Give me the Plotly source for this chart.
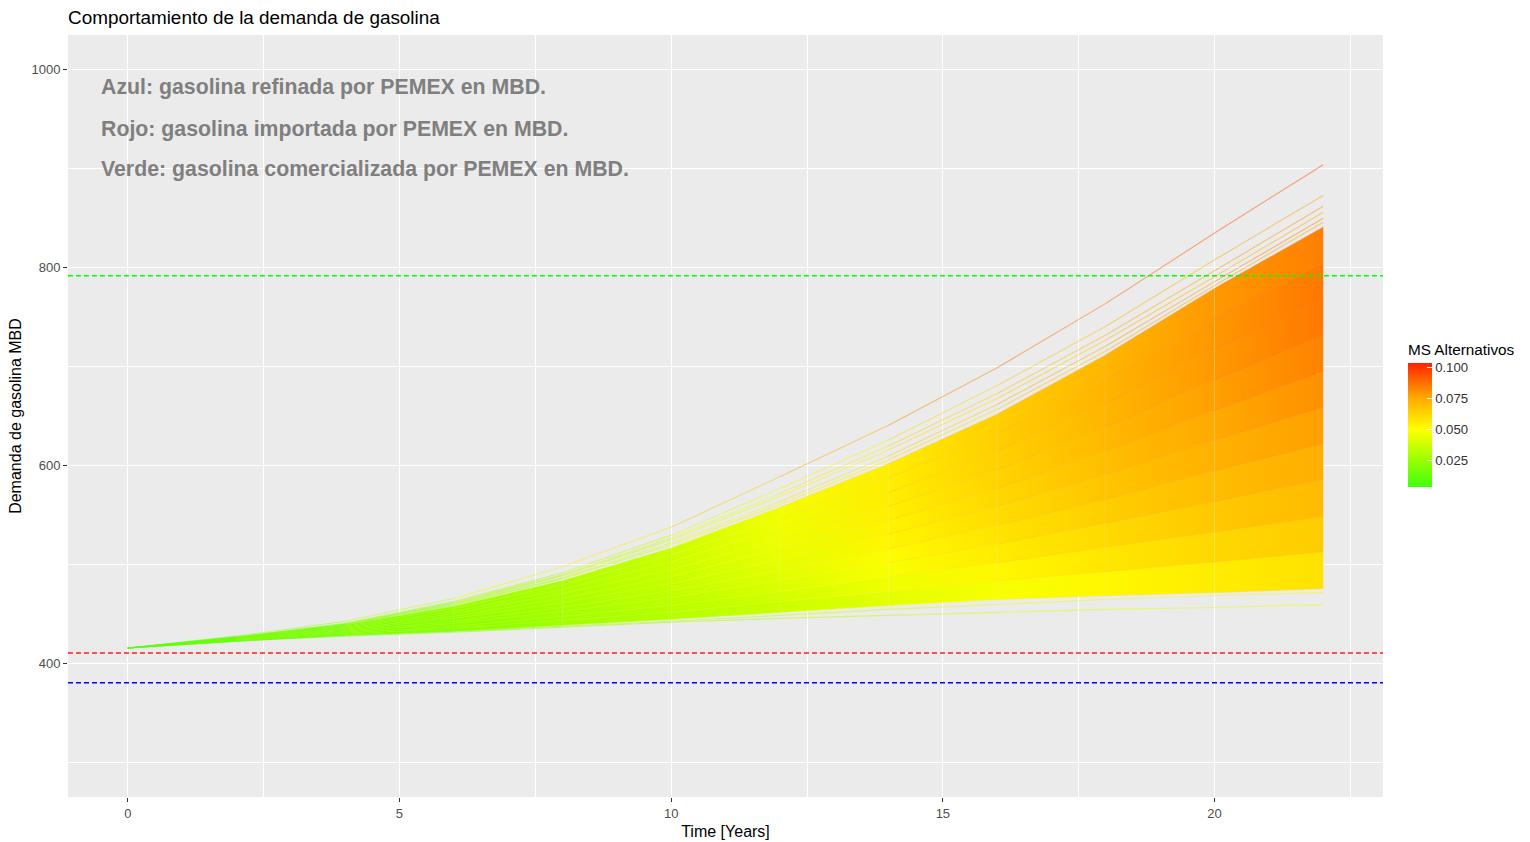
import plotly.graph_objects as go
from plotly.colors import sample_colorscale

# ---------------- data ----------------
years = [0, 2, 4, 6, 8, 10, 12, 14, 16, 18, 20, 22]

# dense bundle of simulated demand paths (MBD), bottom to top
dem_b0 = [416, 423, 429, 433, 439, 445, 452, 459, 465, 469, 472, 476]
dem_b1 = [416, 423, 430, 436, 444, 452, 463, 473, 484, 493, 503, 513]
dem_b2 = [416, 424, 431, 438, 448, 459, 473, 488, 502, 518, 533, 549]
dem_b3 = [416, 424, 432, 441, 453, 467, 484, 502, 521, 542, 564, 586]
dem_b4 = [416, 424, 433, 443, 457, 474, 494, 516, 540, 566, 595, 622]
dem_b5 = [416, 425, 434, 446, 462, 481, 505, 531, 559, 591, 626, 659]
dem_b6 = [416, 425, 435, 448, 466, 488, 516, 545, 577, 615, 656, 695]
dem_b7 = [416, 425, 436, 451, 471, 495, 526, 559, 596, 639, 687, 732]
dem_b8 = [416, 425, 437, 453, 475, 503, 537, 573, 615, 663, 718, 768]
dem_b9 = [416, 426, 438, 456, 480, 510, 547, 588, 633, 688, 748, 805]
dem_b10 = [416, 426, 439, 458, 484, 517, 558, 602, 652, 712, 779, 841]

# MS Alternativos along each bundle path
ms_b0 = [0.007, 0.012, 0.016, 0.021, 0.026, 0.031, 0.036, 0.042, 0.046, 0.049, 0.052, 0.055]
ms_b1 = [0.007, 0.012, 0.016, 0.022, 0.027, 0.032, 0.038, 0.045, 0.050, 0.055, 0.059, 0.062]
ms_b2 = [0.007, 0.012, 0.017, 0.022, 0.027, 0.033, 0.040, 0.047, 0.054, 0.059, 0.064, 0.068]
ms_b3 = [0.007, 0.012, 0.017, 0.023, 0.028, 0.034, 0.042, 0.050, 0.057, 0.063, 0.068, 0.072]
ms_b4 = [0.007, 0.012, 0.017, 0.023, 0.028, 0.035, 0.043, 0.052, 0.059, 0.066, 0.071, 0.075]
ms_b5 = [0.007, 0.012, 0.017, 0.023, 0.029, 0.036, 0.044, 0.053, 0.061, 0.068, 0.074, 0.079]
ms_b6 = [0.007, 0.012, 0.017, 0.024, 0.029, 0.036, 0.045, 0.054, 0.062, 0.070, 0.076, 0.082]
ms_b7 = [0.007, 0.012, 0.017, 0.024, 0.030, 0.037, 0.046, 0.055, 0.063, 0.071, 0.078, 0.085]
ms_b8 = [0.007, 0.012, 0.017, 0.024, 0.030, 0.037, 0.046, 0.055, 0.064, 0.072, 0.079, 0.086]
ms_b9 = [0.007, 0.012, 0.017, 0.024, 0.030, 0.037, 0.047, 0.055, 0.064, 0.072, 0.079, 0.085]
ms_b10 = [0.007, 0.012, 0.017, 0.024, 0.030, 0.037, 0.047, 0.055, 0.064, 0.071, 0.078, 0.083]

# sparse individual paths (above and below the bundle)
dem_u1 = [416, 428, 443, 466, 498, 538, 589, 641, 699, 764, 835, 904]
dem_u2 = [416, 427, 441, 463, 492, 530, 577, 626, 681, 741, 808, 873]
dem_u3 = [416, 427, 440, 462, 490, 527, 572, 620, 673, 732, 797, 862]
dem_u4 = [416, 427, 440, 461, 489, 525, 569, 616, 668, 727, 791, 856]
dem_u5 = [416, 426, 440, 460, 487, 522, 564, 610, 662, 721, 786, 850]
dem_u6 = [416, 426, 439, 459, 486, 520, 561, 606, 657, 716, 782, 846]
dem_l1 = [416, 423, 429, 433, 438, 443, 449, 455, 460, 465, 469, 472]
dem_l2 = [416, 423, 428, 432, 437, 442, 446, 449, 452, 455, 457, 460]

ms_u1 = [0.008, 0.020, 0.030, 0.040, 0.050, 0.060, 0.070, 0.078, 0.085, 0.090, 0.093, 0.095]
ms_u2 = [0.008, 0.014, 0.019, 0.025, 0.032, 0.040, 0.049, 0.057, 0.064, 0.070, 0.074, 0.077]
ms_u3 = [0.008, 0.014, 0.019, 0.026, 0.033, 0.042, 0.051, 0.060, 0.067, 0.073, 0.077, 0.080]
ms_u4 = [0.008, 0.014, 0.019, 0.025, 0.032, 0.040, 0.049, 0.057, 0.064, 0.069, 0.073, 0.075]
ms_u5 = [0.008, 0.014, 0.019, 0.026, 0.033, 0.042, 0.052, 0.062, 0.070, 0.077, 0.082, 0.086]
ms_u6 = [0.008, 0.014, 0.019, 0.025, 0.032, 0.040, 0.049, 0.057, 0.064, 0.070, 0.075, 0.078]
ms_l1 = [0.007, 0.012, 0.016, 0.021, 0.025, 0.030, 0.035, 0.040, 0.044, 0.047, 0.050, 0.052]
ms_l2 = [0.007, 0.012, 0.016, 0.020, 0.024, 0.028, 0.032, 0.036, 0.040, 0.043, 0.045, 0.047]

# reference levels (MBD)
ref_verde = 792   # comercializada
ref_rojo = 411    # importada
ref_azul = 381    # refinada

notes = ["Azul: gasolina refinada por PEMEX en MBD.",
         "Rojo: gasolina importada por PEMEX en MBD.",
         "Verde: gasolina comercializada por PEMEX en MBD."]
note_y = [982, 940, 900]

cbar_ticks = [0.025, 0.050, 0.075, 0.100]
cbar_text = ["0.025", "0.050", "0.075", "0.100"]

# ---------------- styling ----------------
MS_MIN, MS_MAX = 0.0035, 0.1035
cscale = [
    [0.0, "rgb(64,255,16)"],
    [0.215, "rgb(153,255,0)"],
    [0.465, "rgb(255,255,0)"],
    [0.715, "rgb(255,170,0)"],
    [0.965, "rgb(255,51,0)"],
    [1.0, "rgb(255,34,0)"],
]


def ms_color(v, alpha=1.0):
    n = min(max((v - MS_MIN) / (MS_MAX - MS_MIN), 0.0), 1.0)
    c = sample_colorscale(cscale, [n])[0]
    nums = c[c.index("(") + 1:c.index(")")].split(",")
    r, g, b = [int(round(float(x))) for x in nums]
    return f"rgba({r},{g},{b},{alpha})"


FONT = "Liberation Sans, Arial, sans-serif"

fig = go.Figure()

band_dem = [dem_b0, dem_b1, dem_b2, dem_b3, dem_b4, dem_b5,
            dem_b6, dem_b7, dem_b8, dem_b9, dem_b10]
band_ms = [ms_b0, ms_b1, ms_b2, ms_b3, ms_b4, ms_b5,
           ms_b6, ms_b7, ms_b8, ms_b9, ms_b10]

# filled bundle, patch by patch, with a horizontal MS colour gradient
for i in range(1, len(band_dem)):
    lo, hi = band_dem[i - 1], band_dem[i]
    mlo, mhi = band_ms[i - 1], band_ms[i]
    for k in range(len(years) - 1):
        c_left = ms_color((mlo[k] + mhi[k]) / 2.0)
        c_right = ms_color((mlo[k + 1] + mhi[k + 1]) / 2.0)
        fig.add_trace(go.Scatter(
            x=[years[k], years[k + 1], years[k + 1], years[k], years[k]],
            y=[lo[k], lo[k + 1], hi[k + 1], hi[k], lo[k]],
            mode="none", fill="toself",
            fillgradient=dict(type="horizontal",
                              colorscale=[[0, c_left], [1, c_right]]),
            hoverinfo="skip", showlegend=False))

# thin streak lines on top of the bundle
for dem, ms in zip(band_dem, band_ms):
    for k in range(len(years) - 1):
        m = (ms[k] + ms[k + 1]) / 2.0 + 0.006
        fig.add_trace(go.Scatter(
            x=[years[k], years[k + 1]], y=[dem[k], dem[k + 1]],
            mode="lines", line=dict(color=ms_color(m, 0.5), width=1),
            hoverinfo="skip", showlegend=False))

sparse_dem = [dem_u1, dem_u2, dem_u3, dem_u4, dem_u5, dem_u6, dem_l1, dem_l2]
sparse_ms = [ms_u1, ms_u2, ms_u3, ms_u4, ms_u5, ms_u6, ms_l1, ms_l2]
for dem, ms in zip(sparse_dem, sparse_ms):
    for k in range(len(years) - 1):
        m = (ms[k] + ms[k + 1]) / 2.0
        fig.add_trace(go.Scatter(
            x=[years[k], years[k + 1]], y=[dem[k], dem[k + 1]],
            mode="lines", line=dict(color=ms_color(m, 0.5), width=1.1),
            hoverinfo="skip", showlegend=False))

# colour bar
fig.add_trace(go.Scatter(
    x=[None], y=[None], mode="markers", hoverinfo="skip", showlegend=False,
    marker=dict(color=[0.05], cmin=MS_MIN, cmax=MS_MAX, colorscale=cscale,
                showscale=True,
                colorbar=dict(
                    title=dict(text="MS Alternativos", side="top",
                               font=dict(family=FONT, size=15.3, color="#000000")),
                    thicknessmode="pixels", thickness=24,
                    lenmode="pixels", len=146,
                    x=(1408 - 68) / 1315, xanchor="left", xpad=0,
                    y=(797 - 341) / 762, yanchor="top", ypad=0,
                    outlinewidth=0,
                    tickvals=cbar_ticks, ticktext=cbar_text,
                    ticks="inside", ticklen=5, tickcolor="white", tickwidth=1,
                    tickfont=dict(family=FONT, size=13.2, color="#333333"),
                ))))

# reference lines
for lvl, col in [(ref_verde, "#00FF00"), (ref_rojo, "#FF2020"), (ref_azul, "#0000FF")]:
    fig.add_hline(y=lvl, line=dict(color=col, width=1.5, dash="5px,3px"))

for txt, yv in zip(notes, note_y):
    fig.add_annotation(text=f"<b>{txt}</b>", xref="paper", x=(99 - 68) / 1315,
                       xanchor="left", yref="y", y=yv, yanchor="middle",
                       showarrow=False,
                       font=dict(family=FONT, size=21.3, color="#7F7F7F"))

fig.update_layout(
    width=1530, height=842,
    margin=dict(l=68, r=147, t=35, b=45, autoexpand=False),
    paper_bgcolor="white", plot_bgcolor="#EBEBEB",
    font=dict(family=FONT, color="#000000"),
    title=dict(text="Comportamiento de la demanda de gasolina",
               xref="container", x=68 / 1530, xanchor="left",
               yref="container", y=1 - 17 / 842, yanchor="middle",
               font=dict(family=FONT, size=18.9, color="#000000")),
    showlegend=False,
)
fig.update_xaxes(
    range=[-1.1, 23.1], tickvals=[0, 5, 10, 15, 20], automargin=False,
    showgrid=True, gridcolor="white", gridwidth=1.3, zeroline=False,
    ticks="outside", ticklen=4, tickcolor="#333333", tickwidth=1,
    tickfont=dict(family=FONT, size=13, color="#4D4D4D"),
    minor=dict(tickvals=[2.5, 7.5, 12.5, 17.5, 22.5], showgrid=True,
               gridcolor="white", gridwidth=0.6, ticks=""),
    title=dict(text="Time [Years]", standoff=6,
               font=dict(family=FONT, size=16, color="#000000")),
    showline=False,
)
fig.update_yaxes(
    range=[265.6, 1035], tickvals=[400, 600, 800, 1000], automargin=False,
    showgrid=True, gridcolor="white", gridwidth=1.3, zeroline=False,
    ticks="outside", ticklen=4, tickcolor="#333333", tickwidth=1,
    tickfont=dict(family=FONT, size=13, color="#4D4D4D"),
    minor=dict(tickvals=[300, 500, 700, 900], showgrid=True,
               gridcolor="white", gridwidth=0.6, ticks=""),
    title=dict(text="Demanda de gasolina MBD", standoff=5,
               font=dict(family=FONT, size=16, color="#000000")),
    showline=False,
)

fig.write_html("out.html", config={"displayModeBar": False},
               post_script="document.body.style.margin='0';document.body.style.overflow='hidden';")
